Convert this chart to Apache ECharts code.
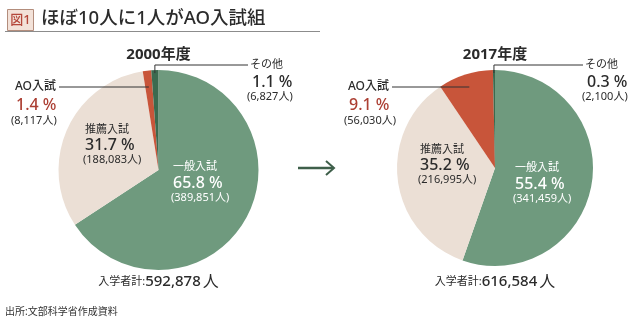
<!DOCTYPE html>
<html>
<head>
<meta charset="utf-8">
<script src="https://cdn.jsdelivr.net/npm/echarts@6/dist/echarts.min.js"></script>
<style>
  html, body { margin: 0; padding: 0; background: #fff; }
  #chart { width: 638px; height: 322px; }
</style>
</head>
<body>
<div id="chart"></div>
<script>
// 入試区分別の入学者数（2000年度・2017年度）
const years = ['2000年度', '2017年度'];
const categories = ['一般入試', '推薦入試', 'AO入試', 'その他'];
const counts2000 = [389851, 188083, 8117, 6827];
const counts2017 = [341459, 216995, 56030, 2100];
const pct2000 = ['65.8', '31.7', '1.4', '1.1'];
const pct2017 = ['55.4', '35.2', '9.1', '0.3'];
const totals = [592878, 616584];

const colors = ['#6f9a7e', '#ebdfd5', '#c8553a', '#3b6a4f'];
// Latin digits from Noto Sans, Japanese glyphs fall back to Noto Sans CJK
const FONT = '"Noto Sans", "Noto Sans CJK JP", sans-serif';
const DARK = '#2b2b2b';

const pies = [
  { cx: 158.5, cy: 170, r: 100, counts: counts2000, pct: pct2000, total: totals[0], year: years[0],
    lab: {
      big:   { x: 173, y: 167 },
      mid:   { x: 85,  y: 130 },
      ao:    { x: 15,  y: 87 },
      other: { x: 250, y: 65 }
    } },
  { cx: 495, cy: 168, r: 98, counts: counts2017, pct: pct2017, total: totals[1], year: years[1],
    lab: {
      big:   { x: 515, y: 168 },
      mid:   { x: 420, y: 150 },
      ao:    { x: 348, y: 87 },
      other: { x: 585, y: 65 }
    } }
];

const fmt = n => n.toLocaleString('en-US');

// mid angle of each slice, clockwise from 12 o'clock (degrees)
function midAngles(counts) {
  const sum = counts.reduce((a, b) => a + b, 0);
  let acc = 0;
  return counts.map(v => {
    const a0 = acc / sum * 360;
    acc += v;
    const a1 = acc / sum * 360;
    return (a0 + a1) / 2;
  });
}

const graphic = [];

// heading
graphic.push(
  { type: 'line', shape: { x1: 5, y1: 31.5, x2: 320, y2: 31.5 }, style: { stroke: '#8c8c8c', lineWidth: 1 } },
  { type: 'rect', shape: { x: 7.5, y: 9.5, width: 26, height: 21 }, style: { fill: '#f3e2d9', stroke: '#b38d7c', lineWidth: 1 } },
  { type: 'text', x: 20.5, y: 20, style: { text: '図1', fill: '#b4473a', font: '500 13px ' + FONT, textAlign: 'center', textVerticalAlign: 'middle' } },
  { type: 'text', x: 41, y: 19, style: { text: 'ほぼ10人に1人がAO入試組', fill: DARK, font: '500 18.5px ' + FONT, textAlign: 'left', textVerticalAlign: 'middle' } },
  { type: 'text', x: 5, y: 312, style: { text: '出所:文部科学省作成資料', fill: '#333', font: '10px ' + FONT, textAlign: 'left', textVerticalAlign: 'middle' } }
);

// arrow between the two pies
graphic.push(
  { type: 'line', shape: { x1: 298, y1: 168, x2: 333, y2: 168 }, style: { stroke: '#3e5f4a', lineWidth: 2.5 } },
  { type: 'polyline', shape: { points: [[326, 161], [334, 168], [326, 175]] }, style: { stroke: '#3e5f4a', lineWidth: 2, fill: null } }
);

function block(x, y, name, pct, count, opt) {
  const nameColor = opt.color || DARK;
  const pctColor = opt.pctColor || nameColor;
  const gap1 = opt.gap1 || 17, gap2 = opt.gap2 || 15;
  const out = [];
  out.push({ type: 'text', x: x + (opt.nameDx || 0), y: y, style: { text: name, fill: nameColor, font: (opt.nameWeight || 500) + ' ' + (opt.nameSize || 11) + 'px ' + FONT, textAlign: 'left', textVerticalAlign: 'middle' } });
  out.push({ type: 'text', x: x + (opt.pctDx || 0), y: y + gap1, style: { text: pct + ' %', fill: pctColor, font: '500 16px ' + FONT, textAlign: 'left', textVerticalAlign: 'middle' } });
  out.push({ type: 'text', x: x + (opt.cntDx || -2), y: y + gap1 + gap2, style: { text: '(' + fmt(count) + '人)', fill: nameColor, font: '11px ' + FONT, textAlign: 'left', textVerticalAlign: 'middle' } });
  return out;
}

pies.forEach(p => {
  const mids = midAngles(p.counts);
  const L = p.lab;

  // year heading
  graphic.push({ type: 'text', x: p.cx, y: 55, style: { text: p.year, fill: DARK, font: 'bold 15px ' + FONT, textAlign: 'center', textVerticalAlign: 'middle' } });

  // total
  graphic.push({ type: 'text', x: p.cx, y: 282, style: {
    text: '{a|入学者計:}{b|' + fmt(p.total) + '}{c|人}',
    textAlign: 'center', textVerticalAlign: 'middle',
    rich: {
      a: { fontSize: 11, fontFamily: FONT, fill: DARK, color: DARK },
      b: { fontSize: 15, fontWeight: 500, fontFamily: FONT, fill: DARK, color: DARK },
      c: { fontSize: 16, fontFamily: FONT, fill: DARK, color: DARK, padding: [0, 0, 0, 2] }
    }
  } });

  // inside labels
  graphic.push(...block(L.big.x, L.big.y, categories[0], p.pct[0], p.counts[0], { color: '#ffffff', nameWeight: 400, gap1: 16, gap2: 15 }));
  graphic.push(...block(L.mid.x, L.mid.y, categories[1], p.pct[1], p.counts[1], { nameWeight: 400, gap1: 15, gap2: 15 }));

  // AO label with horizontal leader into its slice
  graphic.push(...block(L.ao.x, L.ao.y, categories[2], p.pct[2], p.counts[2], { nameSize: 12, pctColor: '#ac3f33', gap1: 18, gap2: 16, pctDx: 1, cntDx: -4 }));
  const aoRad = mids[2] * Math.PI / 180;
  const aoT = (p.cy - L.ao.y) / Math.cos(aoRad);
  const aoX = p.cx + aoT * Math.sin(aoRad);
  graphic.push({ type: 'line', shape: { x1: L.ao.x + 44, y1: L.ao.y, x2: aoX, y2: L.ao.y }, style: { stroke: '#333', lineWidth: 1 } });

  // その他 label with elbow leader from the top of its slice
  graphic.push(...block(L.other.x, L.other.y, categories[3], p.pct[3], p.counts[3], { nameWeight: 400, gap1: 17, gap2: 15, pctDx: 2, cntDx: -3 }));
  const oRad = mids[3] * Math.PI / 180;
  const ox = p.cx + p.r * Math.sin(oRad);
  const oy = p.cy - p.r * Math.cos(oRad);
  graphic.push({ type: 'polyline', shape: { points: [[ox, oy + 3], [ox, L.other.y], [L.other.x - 2, L.other.y]] }, style: { stroke: '#333', lineWidth: 1, fill: null } });
});

const chart = echarts.init(document.getElementById('chart'), null, { renderer: 'canvas' });

const series = pies.map(p => ({
  type: 'pie',
  center: [p.cx, p.cy],
  radius: p.r,
  startAngle: 90,
  clockwise: true,
  silent: true,
  animation: false,
  label: { show: false },
  labelLine: { show: false },
  itemStyle: { borderWidth: 0 },
  emphasis: { disabled: true },
  z: 1,
  data: categories.map((c, i) => ({ name: c, value: p.counts[i], itemStyle: { color: colors[i] } }))
}));

chart.setOption({
  animation: false,
  backgroundColor: '#ffffff',
  series: series,
  graphic: { elements: graphic.map(g => Object.assign({ z: 10, silent: true }, g)) }
});
</script>
</body>
</html>
